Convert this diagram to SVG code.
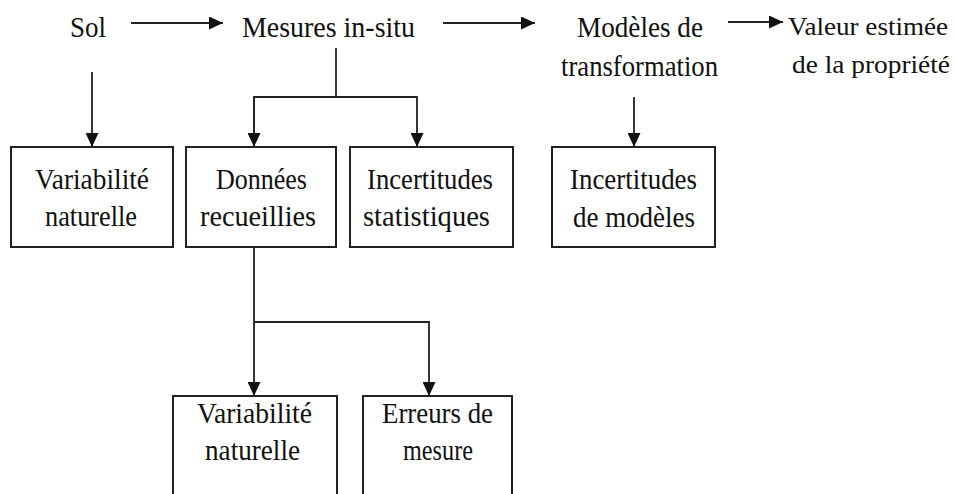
<svg xmlns="http://www.w3.org/2000/svg" width="954" height="494" viewBox="0 0 954 494">
<style>
text{font-family:'Liberation Serif','Times New Roman',serif;font-size:30px;fill:#111;text-anchor:middle}
.small{font-size:26px}
.box{fill:#fff;stroke:#222;stroke-width:2}
.c{fill:none;stroke:#222;stroke-width:1.8}
</style>
<defs>
<marker id="ah" markerUnits="userSpaceOnUse" markerWidth="14" markerHeight="13" refX="14" refY="6.5" orient="auto" viewBox="0 0 14 13">
<path d="M0,0 L14,6.5 L0,13 z" fill="#111"/>
</marker>
</defs>
<rect width="954" height="494" fill="#fff"/>
<g id="connectors">
<line class="c" x1="131" y1="23" x2="223" y2="23" marker-end="url(#ah)"/>
<line class="c" x1="443" y1="23" x2="535" y2="23" marker-end="url(#ah)"/>
<line class="c" x1="728" y1="22" x2="783" y2="22" marker-end="url(#ah)"/>
<line class="c" x1="92" y1="72" x2="92" y2="147" marker-end="url(#ah)"/>
<polyline class="c" points="336,48 336,97"/>
<polyline class="c" points="254,147 254,97 417,97 417,147" marker-end="url(#ah)"/>
<line class="c" x1="254" y1="97" x2="254" y2="147" marker-end="url(#ah)"/>
<line class="c" x1="634" y1="97" x2="634" y2="147" marker-end="url(#ah)"/>
<line class="c" x1="254" y1="247" x2="254" y2="396" marker-end="url(#ah)"/>
<polyline class="c" points="254,322 429,322 429,396" marker-end="url(#ah)"/>
</g>
<g id="sol"><text x="88" y="37" textLength="36" lengthAdjust="spacingAndGlyphs">Sol</text></g>
<g id="mesures"><text x="328.5" y="37" textLength="173" lengthAdjust="spacingAndGlyphs">Mesures in-situ</text></g>
<g id="modeles"><text x="640" y="37" textLength="126" lengthAdjust="spacingAndGlyphs">Modèles de</text><text x="639.5" y="76" textLength="157" lengthAdjust="spacingAndGlyphs">transformation</text></g>
<g id="valeur"><text class="small" x="868" y="35" textLength="160" lengthAdjust="spacingAndGlyphs">Valeur estimée</text><text class="small" x="871" y="73" textLength="158" lengthAdjust="spacingAndGlyphs">de la propriété</text></g>
<g id="variabilite1"><rect class="box" x="11" y="147" width="162" height="100"/><text x="92" y="189" textLength="114" lengthAdjust="spacingAndGlyphs">Variabilité</text><text x="91" y="226" textLength="92" lengthAdjust="spacingAndGlyphs">naturelle</text></g>
<g id="donnees"><rect class="box" x="186" y="147" width="150" height="100"/><text x="261.5" y="189" textLength="91" lengthAdjust="spacingAndGlyphs">Données</text><text x="258" y="226" textLength="116" lengthAdjust="spacingAndGlyphs">recueillies</text></g>
<g id="incertitudes-stat"><rect class="box" x="350" y="147" width="163" height="100"/><text x="430" y="189" textLength="126" lengthAdjust="spacingAndGlyphs">Incertitudes</text><text x="426.5" y="226" textLength="127" lengthAdjust="spacingAndGlyphs">statistiques</text></g>
<g id="incertitudes-mod"><rect class="box" x="552" y="147" width="163" height="100"/><text x="633.5" y="189" textLength="127" lengthAdjust="spacingAndGlyphs">Incertitudes</text><text x="634" y="227" textLength="122" lengthAdjust="spacingAndGlyphs">de modèles</text></g>
<g id="variabilite2"><rect class="box" x="173" y="396" width="164" height="110"/><text x="254.5" y="423" textLength="115" lengthAdjust="spacingAndGlyphs">Variabilité</text><text x="252.5" y="460" textLength="95" lengthAdjust="spacingAndGlyphs">naturelle</text></g>
<g id="erreurs"><rect class="box" x="363" y="396" width="149" height="110"/><text x="437.5" y="423" textLength="111" lengthAdjust="spacingAndGlyphs">Erreurs de</text><text x="438" y="460" textLength="70" lengthAdjust="spacingAndGlyphs">mesure</text></g>
</svg>
